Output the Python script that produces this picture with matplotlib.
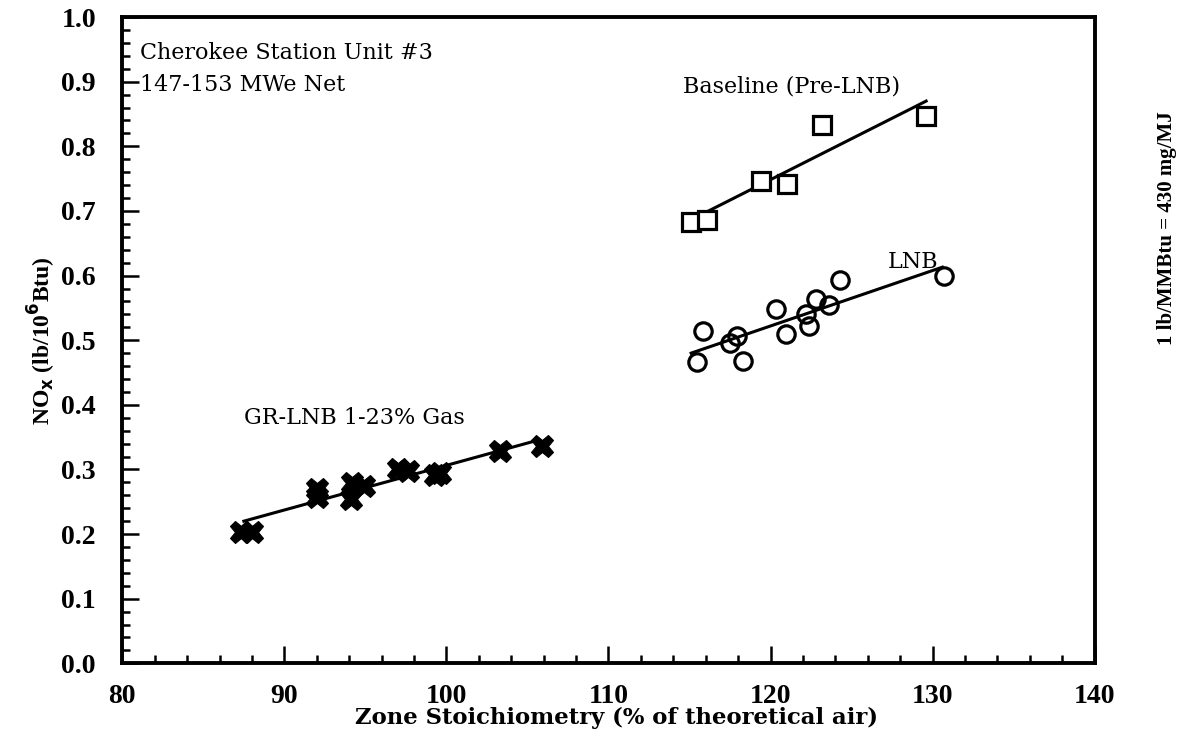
import numpy as np
import matplotlib.pyplot as plt
from matplotlib.ticker import MultipleLocator

# Baseline (pre-LNB) tests
base_x = [115.1, 116.1, 119.4, 121.0, 123.2, 129.6]
base_y = [0.683, 0.686, 0.747, 0.742, 0.833, 0.847]
base_fit_x = [115.7, 129.6]
base_fit_y = [0.694, 0.870]

# LNB tests
lnb_x = [115.86, 115.49, 117.47, 117.9, 118.27, 120.31, 120.93, 122.35, 122.16, 122.78, 123.58, 124.26, 130.68]
lnb_y = [0.515, 0.466, 0.496, 0.507, 0.468, 0.548, 0.510, 0.522, 0.540, 0.563, 0.555, 0.593, 0.599]
lnb_fit_x = [115.1, 130.6]
lnb_fit_y = [0.480, 0.613]

# GR-LNB tests, 1-23% gas
gr_x = [87.3, 88.0, 92.0, 92.0, 94.1, 94.2, 94.9, 97.0, 97.6, 99.3, 99.6, 103.3, 105.9]
gr_y = [0.204, 0.204, 0.270, 0.257, 0.254, 0.279, 0.275, 0.301, 0.298, 0.292, 0.295, 0.329, 0.337]
gr_fit_x = [87.5, 105.6]
gr_fit_y = [0.220, 0.345]

plt.rcParams['font.family'] = ['Liberation Serif', 'DejaVu Serif']
wide = ['DejaVu Serif']

fig = plt.figure(figsize=(11.99, 7.42), dpi=100)
ax = fig.add_axes([0.102, 0.106, 0.811, 0.871])

ax.plot(base_fit_x, base_fit_y, color='black', lw=2.2)
ax.plot(lnb_fit_x, lnb_fit_y, color='black', lw=2.2)
ax.plot(gr_fit_x, gr_fit_y, color='black', lw=2.2)

ax.plot(base_x, base_y, ls='none', marker='s', ms=12.5, mfc='white', mec='black', mew=2.3)
ax.plot(lnb_x, lnb_y, ls='none', marker='o', ms=12.5, mfc='none', mec='black', mew=2.3)
ax.plot(gr_x, gr_y, ls='none', marker='X', ms=16.5, mfc='black', mec='black', mew=0.8)

ax.set_xlim(80, 140)
ax.set_ylim(0, 1.0)
ax.xaxis.set_major_locator(MultipleLocator(10))
ax.xaxis.set_minor_locator(MultipleLocator(2))
ax.yaxis.set_major_locator(MultipleLocator(0.1))
ax.yaxis.set_minor_locator(MultipleLocator(0.02))
ax.tick_params(which='both', direction='in', top=False, right=False, width=1.8)
ax.tick_params(which='major', length=12, labelsize=20)
ax.tick_params(axis='x', which='major', pad=15)
ax.tick_params(axis='y', which='major', pad=19)
ax.tick_params(which='minor', length=6)
ax.yaxis.set_major_formatter(plt.FuncFormatter(lambda v, p: f'{v:.1f}'))
for lab in ax.get_xticklabels() + ax.get_yticklabels():
    lab.set_fontweight('bold')
for sp in ax.spines.values():
    sp.set_linewidth(2.8)

ax.set_xlabel('Zone Stoichiometry (% of theoretical air)', fontsize=16.4, fontweight='bold', family=wide)
ax.xaxis.set_label_coords(0.508, -0.068)
ax.set_ylabel(r'NO$_\mathbf{x}$ (lb/10$^\mathbf{6}$Btu)', fontsize=17, fontweight='bold')
ax.yaxis.set_label_coords(-0.066, 0.5)

ax.text(81.1, 0.944, 'Cherokee Station Unit #3', fontsize=16, va='center', family=wide)
ax.text(81.1, 0.895, '147-153 MWe Net', fontsize=16, va='center', family=wide)
ax.text(121.3, 0.893, 'Baseline (Pre-LNB)', fontsize=16, ha='center', va='center', family=wide)
ax.text(128.8, 0.621, 'LNB', fontsize=16, ha='center', va='center', family=wide)
ax.text(94.3, 0.379, 'GR-LNB 1-23% Gas', fontsize=16, ha='center', va='center', family=wide)

fig.text(0.973, 0.693, '1 lb/MMBtu = 430 mg/MJ', rotation=90, fontsize=15, fontweight='bold',
         ha='center', va='center')

fig.savefig('out.png', dpi=100)
